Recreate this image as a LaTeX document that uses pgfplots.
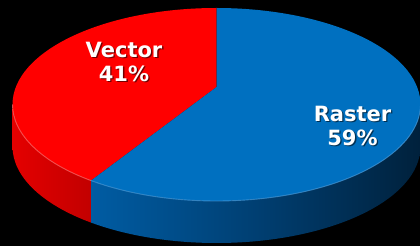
\documentclass[border=0pt]{standalone}
\usepackage{pgfplots}
\pgfplotsset{compat=1.18}
\usepackage{pgfplotstable}
\usepackage{fontspec}
\setmainfont{DejaVu Sans}
\definecolor{pieRed}{HTML}{FF0000}
\definecolor{pieBlue}{HTML}{0070C0}
\definecolor{sideRedL}{HTML}{E40000}
\definecolor{sideRedR}{HTML}{C20000}
\definecolor{sideBlueL}{HTML}{005CA3}
\definecolor{sideBlueM}{HTML}{003F72}
\definecolor{sideBlueR}{HTML}{00213C}
\definecolor{rimRed}{HTML}{FF7070}
\definecolor{rimBlue}{HTML}{4A9BDA}
\pgfplotstableread{
label value
Raster 59
Vector 41
}\piedata
\begin{document}
\begin{tikzpicture}
\pgfplotstablegetelem{0}{value}\of\piedata \let\vRaster\pgfplotsretval
\pgfplotstablegetelem{1}{value}\of\piedata \let\vVector\pgfplotsretval
% geometry (1 unit = 1pt)
\def\cx{216.5}\def\cy{141.5}\def\rx{204}\def\ry{96.5}\def\dep{42}
\def\dd{0.181}
\pgfmathsetmacro\vy{\cy+\dd*\ry}
\pgfmathsetmacro\ty{\cy+\ry}
\pgfmathsetmacro\lx{\cx-\rx}
\pgfmathsetmacro\th{90+360*\vVector/(\vRaster+\vVector)}
\pgfmathsetmacro\cn{cos(\th)}
\pgfmathsetmacro\sn{sin(\th)}
\pgfmathsetmacro\tp{-(\dd)*(\sn)+sqrt((\dd)*(\dd)*(\sn)*(\sn)-(\dd)*(\dd)+1)}
\pgfmathsetmacro\ph{atan2(\dd+(\tp)*(\sn),(\tp)*(\cn))}
\pgfmathsetmacro\ph{ifthenelse(\ph<0,\ph+360,\ph)}
\pgfmathsetmacro\px{\cx+\rx*cos(\ph)}
\pgfmathsetmacro\py{\cy+\ry*sin(\ph)}
\begin{axis}[scale only axis, width=420pt, height=246pt,
  xmin=0, xmax=420, ymin=0, ymax=246, hide axis, clip=false]
\fill[black] (axis cs:0,0) rectangle (axis cs:420,246);
% side walls
\shade[left color=sideRedL, right color=sideRedR]
  (axis cs:\lx,\cy) arc[start angle=180, end angle=\ph, x radius=\rx pt, y radius=\ry pt]
  -- ++(0,-\dep pt) arc[start angle=\ph, end angle=180, x radius=\rx pt, y radius=\ry pt] -- cycle;
\shade[left color=sideBlueL, right color=sideBlueR, middle color=sideBlueM]
  (axis cs:\px,\py) arc[start angle=\ph, end angle=360, x radius=\rx pt, y radius=\ry pt]
  -- ++(0,-\dep pt) arc[start angle=360, end angle=\ph, x radius=\rx pt, y radius=\ry pt] -- cycle;
% top face
\fill[pieRed] (axis cs:\cx,\vy) -- (axis cs:\cx,\ty)
  arc[start angle=90, end angle=\ph, x radius=\rx pt, y radius=\ry pt] -- cycle;
\fill[pieBlue] (axis cs:\cx,\vy) -- (axis cs:\px,\py)
  arc[start angle=\ph, end angle=450, x radius=\rx pt, y radius=\ry pt] -- cycle;
% rim highlight
\draw[rimRed, line width=0.9pt, opacity=0.7] (axis cs:\lx,\cy)
  arc[start angle=180, end angle=\ph, x radius=\rx pt, y radius=\ry pt];
\draw[rimBlue, line width=0.9pt, opacity=0.7] (axis cs:\px,\py)
  arc[start angle=\ph, end angle=360, x radius=\rx pt, y radius=\ry pt];
% labels
\tikzset{lbl/.style={align=center, inner sep=0pt,
  font=\fontsize{21}{24}\selectfont\bfseries}}
\node[lbl, text=black, opacity=0.55] at (axis cs:125.3,182.8) {Vector\\41\%};
\node[lbl, text=white] at (axis cs:124,184) {Vector\\41\%};
\node[lbl, text=black, opacity=0.55] at (axis cs:353.8,119.3) {Raster\\59\%};
\node[lbl, text=white] at (axis cs:352.5,120.5) {Raster\\59\%};
\end{axis}
\pgfresetboundingbox
\useasboundingbox (current axis.south west) rectangle (current axis.north east);
\end{tikzpicture}
\end{document}
